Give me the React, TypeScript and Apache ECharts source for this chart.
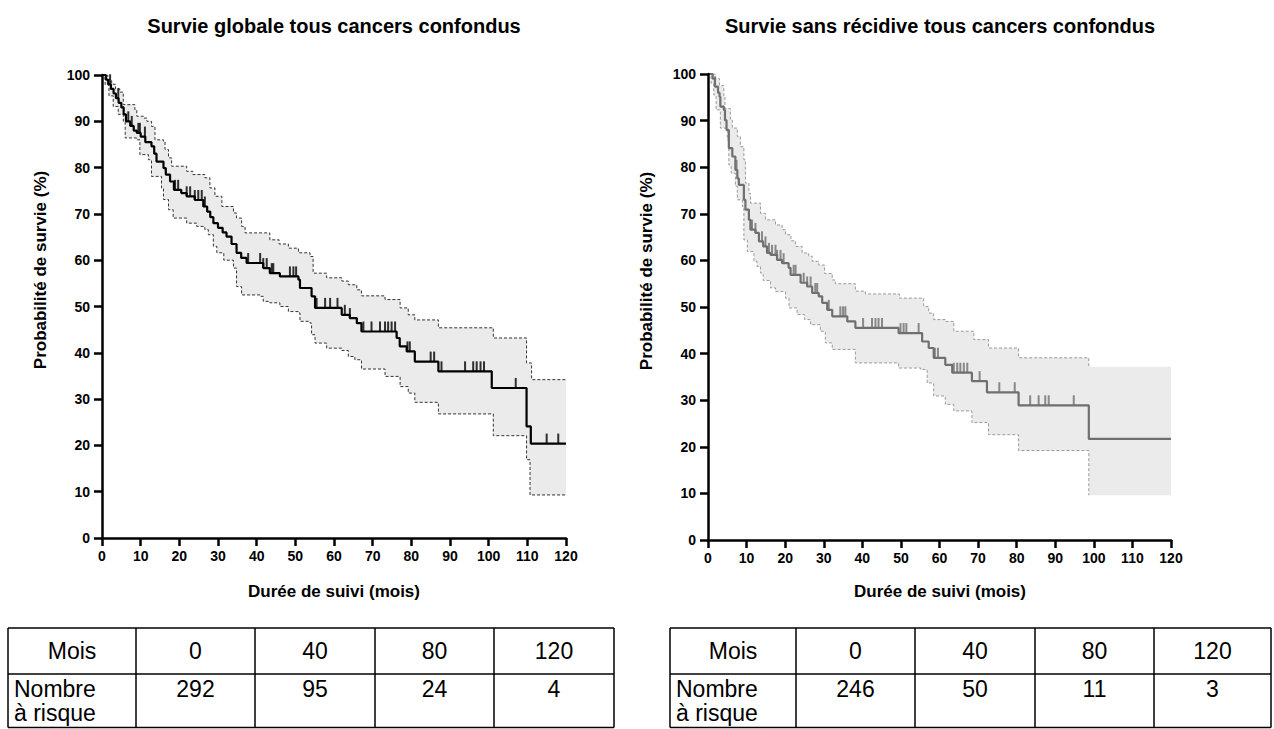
import React, { useEffect, useRef } from "react";
import * as echarts from "echarts";

const FONT = '"Liberation Sans", Arial, sans-serif';

const titleLeft = "Survie globale tous cancers confondus";
const titleRight = "Survie sans récidive tous cancers confondus";
const xAxisName = "Durée de suivi (mois)";
const yAxisName = "Probabilité de survie (%)";

// Overall survival (left) : [month, survival % after the step]
const osSurvival: [number, number][] = [
  [0, 100], [1.0, 99], [1.6, 98], [2.3, 97], [3.0, 96], [3.6, 95], [4.3, 94], [5.0, 93], [5.6, 91.5],
  [6.2, 90], [7.3, 89], [8.2, 88], [9.0, 87.5], [10.0, 86.7], [11.2, 85.5], [12.8, 84.6], [13.5, 83],
  [14.1, 81.3], [15.9, 79.9], [16.5, 78.5], [17.6, 77], [18.6, 75.2], [20.5, 74.5], [21.9, 73.8],
  [24.0, 73.0], [26.2, 71.6], [27.2, 70.5], [28.0, 69.3], [28.8, 68], [30.0, 67.0], [31.2, 66.0],
  [32.2, 65.1], [33.5, 63.5], [34.8, 61.6], [36.0, 60.5], [37.4, 59.4], [41.7, 58.3], [43.4, 57.2],
  [46.0, 56.5], [50.8, 55.8], [51.2, 54.0], [54.2, 52.2], [55.1, 49.7], [62.0, 48.2], [64.1, 47.5],
  [65.9, 46.4], [67.1, 44.6], [76.2, 43.2], [77.0, 41.4], [78.8, 40.3], [80.9, 38.1], [87.0, 36.0],
  [100.8, 32.4], [109.8, 24.1], [110.9, 20.4], [120, 20.4],
];
const osUpper: [number, number][] = [
  [0, 100], [1.5, 99], [2.5, 98], [3.5, 97], [4.6, 96.3], [5.5, 93.6], [8.5, 92.5], [9.0, 91.1],
  [10.7, 90.7], [11.6, 90.0], [12.8, 88.9], [13.7, 86.0], [15.9, 85.7], [16.3, 83.9], [17.2, 82.1],
  [18.0, 80.3], [21.9, 79.2], [23.5, 78.5], [26.6, 77.8], [27.9, 75.6], [29.2, 73.8], [31.0, 71.6],
  [34.0, 70.2], [34.8, 69.1], [36.1, 67.3], [37.0, 65.9], [43.4, 64.4], [45.8, 63.5], [48.2, 62.6],
  [50.8, 61.6], [53.8, 60.8], [54.6, 57.2], [58.1, 56.2], [62.0, 55.5], [63.7, 54.7], [65.9, 53.6],
  [67.1, 52.3], [73.2, 51.5], [77.1, 49.7], [79.2, 48.2], [80.9, 47.1], [87.0, 45.4], [101.2, 43.2],
  [109.8, 37.8], [111.1, 34.2], [120, 34.2],
];
const osLower: [number, number][] = [
  [0, 100], [0.8, 97.9], [1.8, 95.5], [2.9, 93.2], [4.2, 91.5], [5.5, 90.0], [6.0, 86.4], [9.0, 86.0],
  [9.8, 82.8], [12.0, 81.7], [12.8, 78.1], [15.4, 75.6], [15.9, 73.1], [17.2, 70.9], [18.4, 69.1],
  [21.9, 68.0], [24.5, 67.3], [26.6, 66.6], [27.5, 65.5], [28.8, 63.0], [29.7, 61.6], [31.5, 60.0],
  [34.0, 58.3], [34.8, 54.3], [36.1, 52.5], [40.9, 52.2], [41.7, 51.1], [43.4, 50.8], [46.0, 50.0],
  [48.2, 48.9], [50.8, 48.6], [51.2, 46.8], [53.8, 46.4], [54.2, 43.9], [55.1, 42.1], [58.1, 41.0],
  [62.0, 40.5], [63.7, 39.2], [65.4, 38.5], [67.1, 36.5], [73.2, 34.9], [77.1, 32.7], [79.2, 31.3],
  [80.9, 29.3], [87.0, 26.8], [101.2, 22.1], [109.8, 16.9], [110.7, 9.3], [120, 9.3],
];
const osCensored: number[] = [
  2.1, 4.2, 6.8, 7.7, 9.4, 9.8, 11.1, 18.9, 19.7, 21.9, 22.8, 24.0, 24.9, 25.8, 26.6, 37.8, 40.9,
  41.7, 42.6, 43.9, 44.3, 48.6, 49.5, 50.2, 55.5, 57.7, 59.0, 60.9, 62.8, 64.1, 67.6, 69.7, 71.9,
  73.2, 74.0, 74.9, 75.8, 79.0, 79.6, 85.0, 85.9, 87.8, 93.9, 96.0, 96.9, 97.9, 98.8, 107.0, 115.0, 118.0,
];

// Recurrence-free survival (right)
const rfsSurvival: [number, number][] = [
  [0, 100], [1.2, 99], [1.8, 97.3], [2.6, 96], [3.0, 95.1], [3.2, 93], [4.1, 92.3], [4.4, 90.1],
  [4.8, 88.0], [5.4, 84.1], [6.3, 82.3], [7.1, 79.4], [7.6, 77.6], [8.0, 76.2], [9.3, 73.0],
  [9.7, 70.9], [10.6, 68.7], [11.0, 66.6], [12.3, 65.9], [13.2, 64.1], [14.3, 63.0], [15.3, 61.6],
  [16.2, 61.2], [17.9, 60.1], [19.2, 59.4], [20.9, 58.4], [21.4, 56.9], [24.0, 55.2], [25.7, 54.4],
  [27.0, 53.0], [28.7, 52.3], [29.6, 50.9], [30.9, 49.4], [32.2, 48.0], [36.1, 46.9], [38.2, 45.5],
  [49.4, 44.4], [55.5, 42.6], [57.2, 41.2], [58.5, 39.1], [61.5, 37.6], [63.3, 35.9], [68.4, 34.1],
  [72.3, 31.7], [80.5, 28.9], [98.7, 21.7], [120, 21.7],
];
const rfsUpper: [number, number][] = [
  [0, 100], [2.0, 99], [3.0, 97.5], [4.1, 95.1], [4.4, 92.6], [5.8, 90.1], [6.3, 88.4], [7.6, 86.6],
  [8.4, 84.4], [9.3, 81.6], [9.7, 76.6], [10.6, 74.4], [11.0, 72.3], [13.6, 70.1], [14.9, 68.7],
  [17.5, 67.6], [19.2, 66.6], [20.1, 65.5], [21.5, 64.2], [22.7, 63.0], [24.4, 61.6], [26.1, 60.9],
  [27.0, 59.8], [28.7, 59.0], [30.2, 57.2], [32.2, 55.8], [33.0, 55.0], [38.2, 53.4], [40.8, 52.8],
  [49.6, 51.9], [55.9, 50.1], [57.2, 48.7], [58.5, 47.3], [61.5, 46.9], [63.7, 44.8], [68.9, 43.0],
  [72.7, 41.2], [80.5, 39.1], [98.7, 37.2],
];
const rfsLower: [number, number][] = [
  [0, 100], [0.8, 98], [1.5, 95.5], [2.1, 92.3], [3.2, 88.4], [5.0, 85.9], [5.4, 80.5], [6.0, 78.7],
  [7.1, 75.9], [7.6, 73.0], [8.9, 71.6], [9.3, 64.4], [10.2, 61.9], [11.9, 59.8], [12.7, 58.7],
  [13.6, 57.3], [14.3, 55.7], [16.2, 54.1], [17.5, 53.3], [20.1, 51.9], [21.0, 49.8], [23.1, 48.4],
  [25.0, 47.3], [26.6, 46.2], [29.1, 44.8], [30.4, 42.3], [32.2, 40.9], [38.2, 38.0], [49.4, 36.9],
  [55.1, 36.6], [56.8, 33.7], [58.5, 30.9], [61.5, 29.1], [63.7, 27.7], [68.4, 25.2], [72.7, 22.6],
  [80.5, 19.2], [98.7, 9.6],
];
const rfsCensored: number[] = [
  1.8, 7.4, 11.4, 12.3, 14.0, 14.9, 15.8, 16.6, 17.5, 17.9, 18.8, 19.6, 22.2, 22.7, 24.8, 25.7,
  26.6, 27.8, 28.3, 31.3, 34.3, 35.0, 35.6, 40.2, 42.5, 43.4, 44.2, 45.1, 49.9, 50.7, 51.4, 54.6,
  58.8, 59.6, 63.7, 64.6, 65.4, 66.3, 67.2, 70.4, 75.5, 79.5, 83.5, 85.7, 87.4, 88.3, 94.8,
];

const xTicks = { min: 0, max: 120, interval: 10 };
const yTicks = { min: 0, max: 100, interval: 10 };

const tableHeader = "Mois";
const tableRowLabel = ["Nombre", "à risque"];
const tableMonths = [0, 40, 80, 120];
const osAtRisk = [292, 95, 24, 4];
const rfsAtRisk = [246, 50, 11, 3];

function levelAt(curve: [number, number][], t: number): number {
  let v = curve[0][1];
  for (const [x, y] of curve) {
    if (x <= t) v = y;
    else break;
  }
  return v;
}

function extendTo(curve: [number, number][], end: number): [number, number][] {
  const last = curve[curve.length - 1];
  return last[0] >= end ? curve : [...curve, [end, last[1]]];
}

type Panel = {
  survival: [number, number][];
  upper: [number, number][];
  lower: [number, number][];
  censored: number[];
  lineColor: string;
  dashColor: string;
  grid: { left: number; top: number; width: number; height: number };
};

const panels: Panel[] = [
  {
    survival: osSurvival, upper: osUpper, lower: osLower, censored: osCensored,
    lineColor: "#000000", dashColor: "#333333",
    grid: { left: 102, top: 75, width: 464, height: 463 },
  },
  {
    survival: rfsSurvival, upper: rfsUpper, lower: rfsLower, censored: rfsCensored,
    lineColor: "#6f6f6f", dashColor: "#9a9a9a",
    grid: { left: 708, top: 74, width: 463, height: 466 },
  },
];

function buildTable(x: number[], y: number[], atRisk: number[]) {
  const els: any[] = [];
  const ls = { stroke: "#000", lineWidth: 1.5 };
  y.forEach((yy) => els.push({ type: "line", shape: { x1: x[0], y1: yy, x2: x[x.length - 1], y2: yy }, style: ls }));
  x.forEach((xx) => els.push({ type: "line", shape: { x1: xx, y1: y[0], x2: xx, y2: y[y.length - 1] }, style: ls }));
  const font = `23px ${FONT}`;
  const r1 = (y[0] + y[1]) / 2;
  els.push({ type: "text", x: (x[0] + x[1]) / 2, y: r1, style: { text: tableHeader, font, fill: "#000", align: "center", verticalAlign: "middle" } });
  tableMonths.forEach((m, i) => {
    els.push({ type: "text", x: (x[i + 1] + x[i + 2]) / 2, y: r1, style: { text: String(m), font, fill: "#000", align: "center", verticalAlign: "middle" } });
  });
  const l1 = y[1] + 15;
  const l2 = l1 + 24;
  els.push({ type: "text", x: x[0] + 6, y: l1, style: { text: tableRowLabel[0], font, fill: "#000", align: "left", verticalAlign: "middle" } });
  els.push({ type: "text", x: x[0] + 6, y: l2, style: { text: tableRowLabel[1], font, fill: "#000", align: "left", verticalAlign: "middle" } });
  atRisk.forEach((n, i) => {
    els.push({ type: "text", x: (x[i + 1] + x[i + 2]) / 2, y: l1, style: { text: String(n), font, fill: "#000", align: "center", verticalAlign: "middle" } });
  });
  return els;
}

export default function App() {
  const ref = useRef<HTMLDivElement>(null);
  useEffect(() => {
    if (!ref.current) return;
    const chart = echarts.init(ref.current, undefined, { renderer: "svg" });

    const axisCommon = {
      axisLine: { show: true, onZero: false, lineStyle: { color: "#000", width: 2.5 } },
      axisTick: { show: true, length: 8, lineStyle: { color: "#000", width: 2.5 } },
      splitLine: { show: false },
      z: 10,
    };

    const xAxis = panels.map((p, i) => ({
      ...axisCommon, gridIndex: i, type: "value", ...xTicks,
      axisLabel: { fontSize: 14, fontWeight: "bold", color: "#000", fontFamily: FONT, margin: 11 },
    }));
    const yAxis = panels.map((p, i) => ({
      ...axisCommon, gridIndex: i, type: "value", ...yTicks,
      axisLabel: { fontSize: 14, fontWeight: "bold", color: "#000", fontFamily: FONT, margin: 12 },
    }));

    const series: any[] = [];
    panels.forEach((p, i) => {
      const axes = { xAxisIndex: i, yAxisIndex: i };
      const base = { type: "line", step: "end", symbol: "none", silent: true, ...axes };
      series.push({ ...base, data: extendTo(p.upper, 120), lineStyle: { width: 0 }, areaStyle: { color: "#ebebeb", opacity: 1 } });
      series.push({ ...base, data: extendTo(p.lower, 120), lineStyle: { width: 0 }, areaStyle: { color: "#ffffff", opacity: 1 } });
      series.push({ ...base, data: p.upper, lineStyle: { width: 1, color: p.dashColor, type: [3, 2] } });
      series.push({ ...base, data: p.lower, lineStyle: { width: 1, color: p.dashColor, type: [3, 2] } });
      series.push({ ...base, data: p.survival, lineStyle: { width: 2.2, color: p.lineColor } });
      series.push({
        type: "scatter", ...axes, silent: true, symbol: "rect", symbolSize: [2, 10], symbolOffset: [0, -5],
        itemStyle: { color: p.lineColor }, data: p.censored.map((t) => [t, levelAt(p.survival, t)]), z: 3,
      });
    });

    const titleFont = `bold 20px ${FONT}`;
    const nameFont = `bold 17px ${FONT}`;
    const graphic: any[] = [
      { type: "text", x: 334, y: 26, style: { text: titleLeft, font: titleFont, fill: "#000", align: "center", verticalAlign: "middle" } },
      { type: "text", x: 940, y: 26, style: { text: titleRight, font: titleFont, fill: "#000", align: "center", verticalAlign: "middle" } },
      { type: "text", x: 334, y: 591, style: { text: xAxisName, font: nameFont, fill: "#000", align: "center", verticalAlign: "middle" } },
      { type: "text", x: 940, y: 591, style: { text: xAxisName, font: nameFont, fill: "#000", align: "center", verticalAlign: "middle" } },
      { type: "text", x: 40, y: 270, rotation: Math.PI / 2, style: { text: yAxisName, font: nameFont, fill: "#000", align: "center", verticalAlign: "middle" } },
      { type: "text", x: 646, y: 271, rotation: Math.PI / 2, style: { text: yAxisName, font: nameFont, fill: "#000", align: "center", verticalAlign: "middle" } },
      ...buildTable([8, 136, 255, 375, 494, 614], [628, 674, 727.5], osAtRisk),
      ...buildTable([670, 796, 915, 1035, 1154, 1271], [628, 674, 727.5], rfsAtRisk),
    ];

    chart.setOption({
      animation: false,
      backgroundColor: "#ffffff",
      grid: panels.map((p) => ({ ...p.grid, containLabel: false })),
      xAxis,
      yAxis,
      series,
      graphic,
    });
    return () => chart.dispose();
  }, []);
  return <div ref={ref} style={{ position: "absolute", left: 0, top: 0, width: 1274, height: 729 }} />;
}
